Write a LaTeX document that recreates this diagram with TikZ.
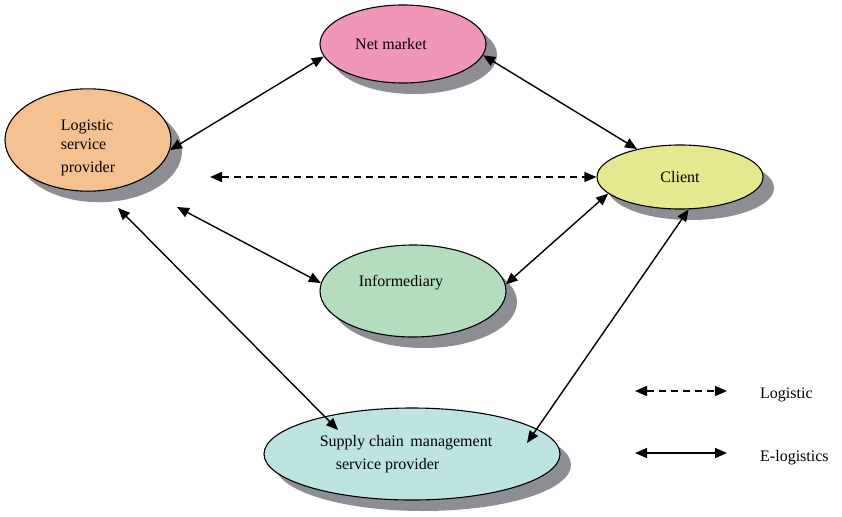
\documentclass[tikz,border=0pt]{standalone}
\usepackage{fontspec}
\setmainfont{Liberation Serif}
\usetikzlibrary{shapes.geometric,arrows.meta,shadows}
\definecolor{shgray}{RGB}{140,142,147}
\definecolor{cpeach}{RGB}{245,193,145}
\definecolor{cpink}{RGB}{240,150,185}
\definecolor{cyellow}{RGB}{230,232,143}
\definecolor{cgreen}{RGB}{180,221,190}
\definecolor{ccyan}{RGB}{190,228,226}
\begin{document}
\begin{tikzpicture}[x=1pt,y=-1pt,
  bub/.style={ellipse, draw=black, line width=1.1pt, inner sep=0pt,
    font=\fontsize{16}{19}\selectfont,
    drop shadow={shadow xshift=11pt, shadow yshift=-11pt, fill=shgray, opacity=1}},
  link/.style={line width=1.4pt, {Triangle[length=12pt,width=10pt]}-{Triangle[length=12pt,width=10pt]}},
  dlink/.style={link, dash pattern=on 7pt off 5pt},
  legtext/.style={anchor=west, inner sep=0pt, font=\fontsize{16}{19}\selectfont}]
\useasboundingbox (0,0) rectangle (842,516);
\node[bub, fill=cpeach, minimum width=166pt, minimum height=88pt, align=left] (lsp) at (88,140) {\rule{0pt}{27pt}Logistic\\service\\[4pt]provider};
\node[bub, fill=cpink, minimum width=166pt, minimum height=78pt] (nm) at (403,44) {Net market\kern24pt};
\node[bub, fill=cyellow, minimum width=166pt, minimum height=64pt] (client) at (680,177) {Client};
\node[bub, fill=cgreen, minimum width=186pt, minimum height=92pt] (inf) at (413,291) {Informediary\kern24pt\rule[-20pt]{0pt}{1pt}};
\node[bub, fill=ccyan, minimum width=296pt, minimum height=92pt, align=left] (scm) at (412,454) {Supply chain\, management\kern12pt\\[4pt]\hspace*{16pt}service provider};
% free ends
\coordinate (dl) at (210,177);
\coordinate (lspi) at (177,207);
\coordinate (lsps) at (118,208);
\coordinate (scml) at (338,430);
\coordinate (scmr) at (527,443);
% connectors
\draw[link] (lsp.-7) -- (nm.189);
\draw[link] (nm.-8) -- (client.147);
\draw[dlink] (dl) -- (client.west);
\draw[link] (lspi) -- (inf.175);
\draw[link] (inf.4) -- (client.193);
\draw[link] (lsps) -- (scml);
\draw[link] (scmr) -- (client.-75);
% legend
\coordinate (l1a) at (635,391);
\coordinate (l1b) at (727,391);
\coordinate (l2a) at (635,453);
\coordinate (l2b) at (727,453);
\draw[dlink] (l1a) -- (l1b);
\draw[link] (l2a) -- (l2b);
\node[legtext] (lg1) at (760,395) {Logistic};
\node[legtext] (lg2) at (760,458) {E-logistics};
\end{tikzpicture}
\end{document}
